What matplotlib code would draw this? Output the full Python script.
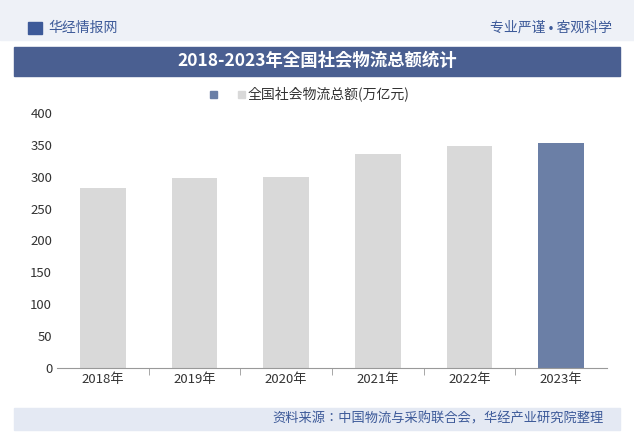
import matplotlib
matplotlib.use("Agg")
import matplotlib.pyplot as plt
from matplotlib.patches import Rectangle
from matplotlib import font_manager as fm

cands = [f for f in fm.findSystemFonts() if "CJK" in f or "Noto" in f and "SC" in f]
fam = None
for f in sorted(cands):
    try:
        fm.fontManager.addfont(f)
        n = fm.FontProperties(fname=f).get_name()
        if "CJK" in n and fam is None:
            fam = n
        if n == "Noto Sans CJK SC":
            fam = n
    except Exception:
        pass
plt.rcParams['font.family'] = [fam or 'Noto Sans CJK SC', 'DejaVu Sans']

years = ["2018年", "2019年", "2020年", "2021年", "2022年", "2023年"]
values = [283.1, 298.0, 300.1, 335.2, 347.6, 352.4]
series_name = "全国社会物流总额(万亿元)"
yticks = [0, 50, 100, 150, 200, 250, 300, 350, 400]

W, H = 634, 443
fig = plt.figure(figsize=(W/100, H/100), dpi=100)
fig.patch.set_facecolor("white")

def fx(x): return x / W
def fy(y): return 1 - y / H

fig.patches.append(Rectangle((0, fy(40)), 1, 40/H, transform=fig.transFigure, color="#eef1f7", zorder=0))
fig.text(fx(48), fy(28), "华经情报网", fontsize=10, color="#3d5a99", va="center")
fig.patches.append(Rectangle((fx(28), fy(34)), 14/W, 12/H, transform=fig.transFigure, color="#3d5a99"))
fig.text(fx(612), fy(28), "专业严谨 • 客观科学", fontsize=10, color="#3d5a99", va="center", ha="right")
fig.patches.append(Rectangle((fx(14), fy(76)), 606/W, 29/H, transform=fig.transFigure, color="#4a5f91"))
fig.text(0.5, fy(61), "2018-2023年全国社会物流总额统计", fontsize=12.5, color="white",
         fontweight="bold", ha="center", va="center")
fig.patches.append(Rectangle((fx(14), fy(430)), 606/W, 22/H, transform=fig.transFigure, color="#e4e9f3"))
fig.text(fx(604), fy(419), "资料来源：中国物流与采购联合会，华经产业研究院整理", fontsize=9.5,
         color="#3d5a99", ha="right", va="center")

ax = fig.add_axes([fx(57), fy(368), (607-57)/W, (368-113)/H])
colors = ["#d9d9d9"] * 5 + ["#6b7fa6"]
ax.bar(range(len(years)), values, width=0.5, color=colors, zorder=2)
ax.set_xlim(-0.5, len(years)-0.5)
ax.set_ylim(0, 400)
ax.set_yticks(yticks)
ax.set_xticks(range(len(years)))
ax.set_xticklabels(years)
ax.tick_params(labelsize=9.5, colors="#333333", length=0)
for s in ["top", "right", "left"]:
    ax.spines[s].set_visible(False)
ax.spines["bottom"].set_color("#999999")
ax.set_xticks([i+0.5 for i in range(len(years)-1)], minor=True)
ax.tick_params(axis="x", which="minor", length=5, color="#999999")
ax.patch.set_alpha(0)

fig.patches.append(Rectangle((fx(210), fy(98)), 7/W, 7/H, transform=fig.transFigure, color="#6b7fa6"))
fig.patches.append(Rectangle((fx(238), fy(98)), 7/W, 7/H, transform=fig.transFigure, color="#d9d9d9"))
fig.text(fx(248), fy(94), series_name, fontsize=10, color="#333333", va="center")

fig.savefig("out.png", dpi=100)
